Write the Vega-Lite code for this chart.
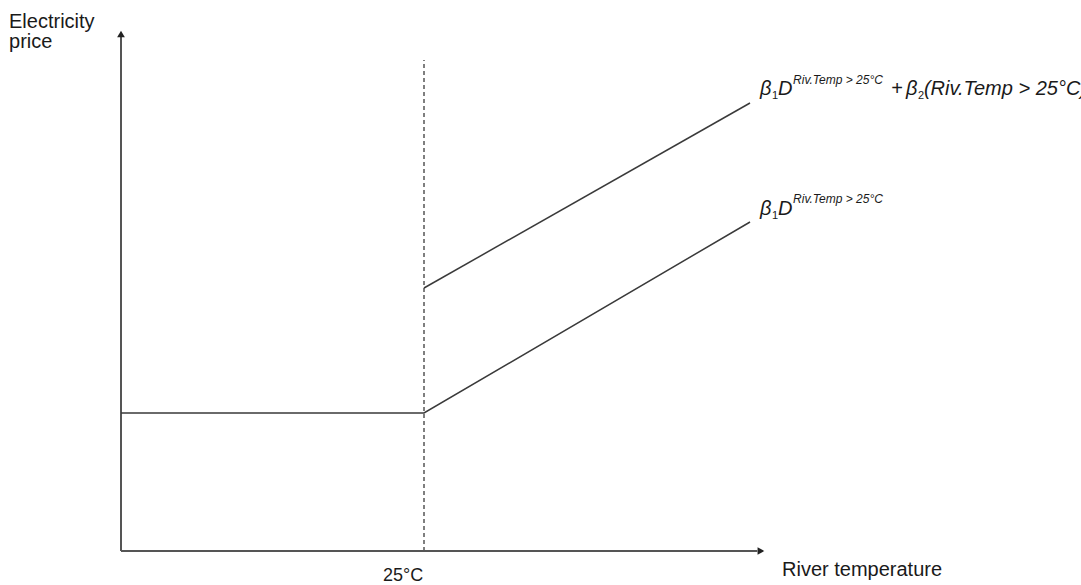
{
  "$schema": "https://vega.github.io/schema/vega-lite/v6.json",
  "width": 1081,
  "height": 585,
  "autosize": "none",
  "padding": 0,
  "background": "white",
  "config": {"view": {"stroke": null}, "font": "Liberation Sans"},
  "datasets": {
    "axes": [
      {"x": 0, "y": 0, "x2": 0, "y2": 5.15},
      {"x": 0, "y": 0, "x2": 52.5, "y2": 0}
    ],
    "arrows": [
      {"x": 0, "y": 5.17, "dir": "up"},
      {"x": 52.8, "y": 0, "dir": "right"}
    ],
    "threshold": [
      {"x": 25, "y": 0, "x2": 25, "y2": 4.91}
    ],
    "curves": [
      {"s": "lower", "x": 0, "y": 1.38},
      {"s": "lower", "x": 25, "y": 1.38},
      {"s": "lower", "x": 51.9, "y": 3.29},
      {"s": "upper", "x": 25, "y": 2.63},
      {"s": "upper", "x": 51.9, "y": 4.48}
    ],
    "labels": [
      {"kind": "axis", "x": -9.24, "y": 5.23, "label": "Electricity"},
      {"kind": "axis", "x": -9.24, "y": 5.03, "label": "price"},
      {"kind": "axis", "x": 54.54, "y": -0.25, "label": "River temperature"},
      {"kind": "tick", "x": 23.27, "y": -0.3, "label": "25°C"},
      {"kind": "main", "x": 52.72, "y": 4.56, "label": "β"},
      {"kind": "sub", "x": 53.71, "y": 4.52, "label": "1"},
      {"kind": "main", "x": 54.21, "y": 4.56, "label": "D"},
      {"kind": "sup", "x": 55.45, "y": 4.67, "label": "Riv.Temp > 25°C"},
      {"kind": "main", "x": 63.53, "y": 4.56, "label": "+"},
      {"kind": "main", "x": 64.77, "y": 4.56, "label": "β"},
      {"kind": "sub", "x": 65.76, "y": 4.52, "label": "2"},
      {"kind": "main", "x": 66.25, "y": 4.56, "label": "(Riv.Temp > 25°C)"},
      {"kind": "main", "x": 52.72, "y": 3.36, "label": "β"},
      {"kind": "sub", "x": 53.71, "y": 3.32, "label": "1"},
      {"kind": "main", "x": 54.21, "y": 3.36, "label": "D"},
      {"kind": "sup", "x": 55.45, "y": 3.48, "label": "Riv.Temp > 25°C"}
    ]
  },
  "encoding": {
    "x": {"field": "x", "type": "quantitative", "scale": {"domain": [-9.9835, 79.2079], "nice": false, "zero": false}, "axis": null},
    "y": {"field": "y", "type": "quantitative", "scale": {"domain": [-0.34, 5.51], "nice": false, "zero": false}, "axis": null}
  },
  "layer": [
    {
      "data": {"name": "axes"},
      "mark": {"type": "rule", "color": "#555555", "strokeWidth": 2},
      "encoding": {"x2": {"field": "x2"}, "y2": {"field": "y2"}}
    },
    {
      "data": {"name": "arrows"},
      "mark": {"type": "point", "filled": true, "color": "#222222", "opacity": 1, "size": 60},
      "encoding": {
        "shape": {"field": "dir", "type": "nominal", "scale": {"domain": ["up", "right"], "range": ["triangle-up", "triangle-right"]}, "legend": null}
      }
    },
    {
      "data": {"name": "threshold"},
      "mark": {"type": "rule", "color": "#555555", "strokeWidth": 1.5, "strokeDash": [4, 3]},
      "encoding": {"x2": {"field": "x2"}, "y2": {"field": "y2"}}
    },
    {
      "data": {"name": "curves"},
      "mark": {"type": "line", "color": "#3a3a3a", "strokeWidth": 1.5},
      "encoding": {"detail": {"field": "s", "type": "nominal"}}
    },
    {
      "data": {"name": "labels"},
      "transform": [{"filter": "datum.kind === 'axis'"}],
      "mark": {"type": "text", "align": "left", "baseline": "alphabetic", "fontSize": 20, "color": "#1a1a1a"},
      "encoding": {"text": {"field": "label"}}
    },
    {
      "data": {"name": "labels"},
      "transform": [{"filter": "datum.kind === 'tick'"}],
      "mark": {"type": "text", "align": "center", "baseline": "alphabetic", "fontSize": 18, "color": "#1a1a1a"},
      "encoding": {"text": {"field": "label"}}
    },
    {
      "data": {"name": "labels"},
      "transform": [{"filter": "datum.kind === 'main'"}],
      "mark": {"type": "text", "align": "left", "baseline": "alphabetic", "fontSize": 20, "fontStyle": "italic", "color": "#1a1a1a"},
      "encoding": {"text": {"field": "label"}}
    },
    {
      "data": {"name": "labels"},
      "transform": [{"filter": "datum.kind === 'sub'"}],
      "mark": {"type": "text", "align": "left", "baseline": "alphabetic", "fontSize": 11, "color": "#1a1a1a"},
      "encoding": {"text": {"field": "label"}}
    },
    {
      "data": {"name": "labels"},
      "transform": [{"filter": "datum.kind === 'sup'"}],
      "mark": {"type": "text", "align": "left", "baseline": "alphabetic", "fontSize": 12, "fontStyle": "italic", "color": "#1a1a1a"},
      "encoding": {"text": {"field": "label"}}
    }
  ]
}
